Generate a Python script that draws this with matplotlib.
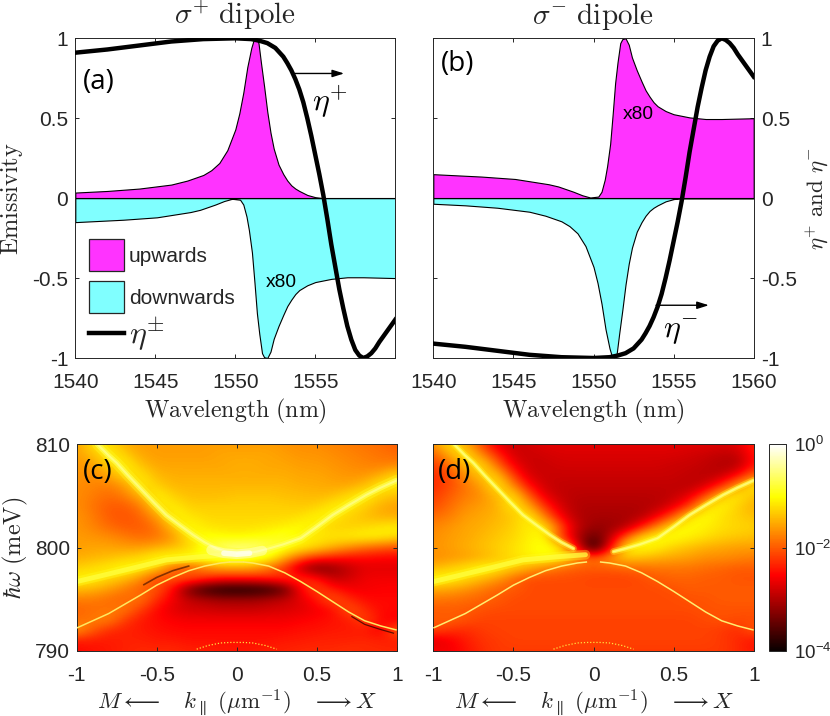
import matplotlib
matplotlib.use("Agg")
import matplotlib.pyplot as plt
import numpy as np
from matplotlib.lines import Line2D
from matplotlib.patches import Patch

plt.rcParams.update({
    "font.family": ["Liberation Sans", "DejaVu Sans"],
    "mathtext.fontset": "cm",
    "axes.unicode_minus": False,
    "axes.linewidth": 0.7,
    "axes.edgecolor": "#262626",
    "xtick.color": "#262626",
    "ytick.color": "#262626",
    "text.color": "#262626",
    "axes.labelcolor": "#262626",
})

W, H = 830, 716
MAGENTA = "#FF33FF"
CYAN = "#80FFFF"

# --- top row: emissivity spectra ------------------------------------------
eta_x = [1540, 1542, 1544, 1546, 1548, 1550, 1551, 1551.5, 1552, 1552.5, 1553, 1553.25, 1553.5, 1553.75,
         1554, 1554.25, 1554.5, 1554.75, 1555, 1555.25, 1555.5, 1555.75, 1556, 1556.25, 1556.5, 1556.75,
         1557, 1557.25, 1557.5, 1557.75, 1558, 1558.25, 1558.5, 1558.75, 1559, 1559.5, 1560]
eta_y = [0.91, 0.93, 0.955, 0.98, 0.995, 1.0, 0.995, 0.985, 0.97, 0.94, 0.885, 0.845, 0.80, 0.745,
         0.68, 0.60, 0.50, 0.39, 0.27, 0.15, 0.02, -0.13, -0.29, -0.43, -0.57, -0.69,
         -0.80, -0.885, -0.95, -0.985, -1.0, -0.99, -0.97, -0.94, -0.90, -0.83, -0.76]

# narrow resonance (upwards in a, downwards in b)
narrow_x = [1540, 1542, 1544, 1546, 1547, 1548, 1548.5, 1549, 1549.5, 1550, 1550.25, 1550.5, 1550.75, 1551,
            1551.15, 1551.3, 1551.45, 1551.6, 1551.8, 1552, 1552.2, 1552.4, 1552.7, 1553, 1553.25, 1553.5,
            1553.75, 1554, 1554.5, 1555, 1555.5, 1560]
narrow_y = [0.035, 0.045, 0.06, 0.085, 0.11, 0.145, 0.175, 0.22, 0.30, 0.43, 0.53, 0.66, 0.82, 0.94,
            0.99, 1.0, 0.97, 0.85, 0.70, 0.54, 0.41, 0.31, 0.21, 0.15, 0.11, 0.08,
            0.06, 0.045, 0.02, 0.006, 0.0, 0.0]

# fano-like resonance, x80 (downwards in a, upwards in b)
fano_x = [1540, 1543, 1545.1, 1547.2, 1547.8, 1548.75, 1549.3, 1549.8, 1550.3, 1550.5, 1550.7, 1550.85, 1551.04,
          1551.2, 1551.35, 1551.5, 1551.67, 1551.8, 1552, 1552.2, 1552.4, 1552.7, 1553, 1553.25, 1553.5, 1553.75,
          1554, 1554.5, 1555, 1556, 1557, 1558, 1560]
fano_y = [0.15, 0.135, 0.12, 0.087, 0.073, 0.04, 0.018, 0.004, 0.01, 0.04, 0.115, 0.2, 0.34,
          0.53, 0.72, 0.85, 0.97, 0.995, 1.0, 0.96, 0.88, 0.80, 0.73, 0.675, 0.635, 0.60,
          0.575, 0.545, 0.525, 0.505, 0.495, 0.495, 0.5]

# --- bottom row: log10 emissivity, rows 810 -> 790 meV, columns k = -1 .. 1
k_grid = [-1.0, -0.9, -0.8, -0.7, -0.6, -0.5, -0.4, -0.3, -0.2, -0.1, 0.0,
          0.1, 0.2, 0.3, 0.4, 0.5, 0.6, 0.7, 0.8, 0.9, 1.0]
map_c = [
    [-1.6,-1.15,-1.2,-1.5,-1.6,-1.6,-1.6,-1.6,-1.6,-1.6,-1.6,-1.6,-1.6,-1.65,-1.7,-1.7,-1.75,-1.8,-1.85,-1.9,-2.0],
    [-1.6,-1.4,-1.05,-1.3,-1.55,-1.6,-1.6,-1.6,-1.6,-1.55,-1.55,-1.55,-1.55,-1.6,-1.65,-1.65,-1.7,-1.75,-1.8,-1.85,-1.9],
    [-1.65,-1.6,-1.3,-1.05,-1.4,-1.55,-1.55,-1.55,-1.55,-1.55,-1.5,-1.5,-1.55,-1.55,-1.6,-1.6,-1.65,-1.7,-1.75,-1.8,-1.75],
    [-1.65,-1.7,-1.55,-1.2,-1.15,-1.45,-1.5,-1.5,-1.5,-1.5,-1.5,-1.5,-1.5,-1.5,-1.55,-1.55,-1.6,-1.65,-1.65,-1.5,-1.2],
    [-1.7,-1.75,-1.8,-1.6,-1.1,-1.3,-1.45,-1.45,-1.45,-1.45,-1.45,-1.45,-1.45,-1.45,-1.5,-1.5,-1.55,-1.55,-1.4,-1.1,-1.15],
    [-1.7,-1.8,-1.9,-1.8,-1.45,-1.05,-1.3,-1.4,-1.4,-1.4,-1.35,-1.35,-1.35,-1.4,-1.4,-1.45,-1.4,-1.2,-1.05,-1.3,-1.4],
    [-1.7,-1.85,-2.0,-2.0,-1.8,-1.2,-1.1,-1.3,-1.3,-1.3,-1.3,-1.3,-1.3,-1.3,-1.35,-1.3,-1.1,-1.1,-1.3,-1.5,-1.6],
    [-1.65,-1.8,-2.0,-2.05,-1.95,-1.6,-1.05,-1.15,-1.25,-1.25,-1.25,-1.25,-1.25,-1.25,-1.2,-1.05,-1.1,-1.3,-1.4,-1.5,-1.5],
    [-1.65,-1.75,-1.9,-2.0,-2.0,-1.85,-1.35,-1.0,-1.15,-1.2,-1.2,-1.2,-1.15,-1.1,-1.0,-1.15,-1.3,-1.3,-1.25,-1.15,-1.1],
    [-1.6,-1.65,-1.7,-1.8,-1.9,-1.85,-1.65,-1.15,-0.95,-1.0,-1.05,-1.0,-0.95,-0.85,-1.1,-1.15,-1.15,-1.1,-1.05,-1.1,-1.2],
    [-1.6,-1.55,-1.55,-1.6,-1.6,-1.5,-1.4,-1.3,-0.95,-0.6,-0.5,-0.5,-0.7,-0.95,-1.1,-1.25,-1.5,-1.7,-1.9,-2.0,-2.1],
    [-1.5,-1.45,-1.4,-1.3,-1.2,-1.0,-0.95,-0.95,-0.9,-0.75,-0.7,-0.85,-1.0,-1.5,-2.0,-2.3,-2.4,-2.5,-2.5,-2.55,-2.55],
    [-1.3,-1.2,-1.1,-1.0,-1.1,-1.3,-2.0,-2.1,-1.8,-1.6,-1.6,-1.6,-1.9,-2.3,-3.0,-3.4,-3.2,-2.9,-2.7,-2.7,-2.7],
    [-1.05,-1.1,-1.25,-1.4,-1.7,-2.2,-2.0,-2.0,-2.2,-2.4,-2.4,-2.4,-2.3,-2.2,-2.2,-2.4,-2.9,-2.8,-2.6,-2.6,-2.6],
    [-1.4,-1.45,-1.6,-1.8,-2.0,-2.0,-2.5,-3.4,-3.8,-3.95,-4.0,-3.95,-3.85,-3.5,-2.5,-2.1,-2.4,-2.6,-2.6,-2.55,-2.55],
    [-1.8,-1.8,-1.9,-1.95,-1.8,-2.3,-2.6,-2.9,-3.0,-3.1,-3.1,-3.1,-3.0,-2.9,-2.7,-2.4,-2.0,-2.3,-2.5,-2.5,-2.5],
    [-1.95,-1.9,-1.85,-1.8,-2.2,-2.5,-2.7,-2.8,-2.8,-2.85,-2.85,-2.85,-2.8,-2.75,-2.7,-2.6,-2.5,-2.0,-2.3,-2.5,-2.5],
    [-1.9,-1.8,-1.75,-2.2,-2.4,-2.5,-2.55,-2.6,-2.6,-2.6,-2.6,-2.6,-2.6,-2.6,-2.55,-2.5,-2.45,-2.4,-2.1,-2.5,-2.6],
    [-1.6,-2.0,-2.3,-2.35,-2.4,-2.45,-2.5,-2.5,-2.5,-2.5,-2.5,-2.5,-2.5,-2.5,-2.45,-2.45,-2.4,-2.4,-2.4,-2.6,-1.9],
    [-2.4,-2.4,-2.4,-2.35,-2.35,-2.4,-2.4,-2.45,-2.45,-2.45,-2.45,-2.45,-2.45,-2.4,-2.4,-2.35,-2.35,-2.35,-2.3,-2.35,-2.4],
    [-2.5,-2.45,-2.4,-2.35,-2.3,-2.3,-2.3,-2.35,-2.35,-2.4,-2.4,-2.4,-2.35,-2.35,-2.3,-2.3,-2.3,-2.25,-2.3,-2.3,-2.3],
]
map_d = [
    [-1.7,-1.15,-1.5,-2.1,-2.7,-2.85,-2.8,-2.7,-2.7,-2.7,-2.7,-2.7,-2.7,-2.7,-2.7,-2.7,-2.7,-2.7,-2.75,-2.7,-2.3],
    [-2.0,-1.5,-1.1,-1.7,-2.3,-2.8,-2.85,-2.8,-2.75,-2.75,-2.75,-2.75,-2.75,-2.75,-2.75,-2.75,-2.8,-2.85,-2.9,-2.9,-2.4],
    [-2.2,-1.9,-1.4,-1.15,-1.9,-2.6,-2.85,-2.85,-2.8,-2.8,-2.8,-2.8,-2.8,-2.8,-2.8,-2.85,-2.85,-2.9,-3.0,-3.0,-2.4],
    [-2.3,-2.1,-1.7,-1.3,-1.3,-2.2,-2.8,-2.85,-2.85,-2.85,-2.85,-2.85,-2.85,-2.85,-2.85,-2.85,-2.9,-2.95,-2.9,-2.5,-1.9],
    [-2.3,-2.1,-1.85,-1.6,-1.1,-1.7,-2.5,-2.85,-2.9,-2.9,-2.9,-2.9,-2.9,-2.9,-2.9,-2.9,-2.95,-2.8,-2.3,-1.6,-1.1],
    [-2.2,-2.0,-1.8,-1.7,-1.4,-1.15,-2.0,-2.7,-2.9,-2.95,-2.95,-2.95,-2.95,-2.95,-2.95,-2.9,-2.7,-2.1,-1.3,-1.1,-1.4],
    [-2.1,-1.9,-1.7,-1.6,-1.5,-1.1,-1.5,-2.3,-2.8,-3.0,-3.0,-3.0,-3.0,-3.0,-2.95,-2.7,-2.2,-1.2,-1.05,-1.3,-1.5],
    [-1.9,-1.8,-1.6,-1.55,-1.45,-1.35,-1.05,-1.8,-2.6,-3.0,-3.05,-3.05,-3.05,-3.0,-2.6,-2.0,-1.15,-1.0,-1.2,-1.3,-1.4],
    [-1.75,-1.65,-1.55,-1.5,-1.4,-1.3,-1.1,-1.15,-2.1,-2.9,-3.15,-3.15,-3.0,-2.4,-1.7,-1.1,-1.0,-1.1,-1.2,-1.25,-1.3],
    [-1.7,-1.6,-1.55,-1.45,-1.35,-1.25,-1.1,-1.0,-2.2,-3.0,-3.5,-3.0,-2.0,-1.2,-1.0,-1.0,-1.1,-1.2,-1.3,-1.35,-1.4],
    [-1.65,-1.6,-1.5,-1.4,-1.3,-1.2,-1.05,-0.95,-1.1,-2.6,-4.0,-2.6,-1.1,-1.0,-1.1,-1.3,-1.4,-1.5,-1.55,-1.6,-1.6],
    [-1.7,-1.65,-1.6,-1.5,-1.35,-1.2,-1.1,-1.0,-1.15,-1.6,-1.95,-1.6,-1.35,-1.4,-1.5,-1.55,-1.6,-1.7,-1.7,-1.75,-1.8],
    [-1.45,-1.3,-1.15,-1.0,-1.1,-1.3,-1.5,-1.75,-1.9,-2.0,-2.0,-2.0,-1.95,-1.9,-1.85,-1.85,-1.85,-1.9,-1.95,-2.0,-2.0],
    [-1.0,-1.05,-1.2,-1.4,-1.6,-1.9,-2.1,-2.1,-2.1,-2.1,-2.15,-2.15,-2.15,-2.1,-2.0,-1.95,-1.95,-2.0,-2.0,-2.05,-2.05],
    [-1.5,-1.55,-1.65,-1.8,-1.95,-2.0,-2.1,-2.1,-2.1,-2.1,-2.1,-2.1,-2.1,-2.1,-2.1,-2.05,-2.0,-2.0,-2.0,-2.0,-2.0],
    [-1.85,-1.85,-1.9,-1.95,-2.0,-2.1,-2.1,-2.1,-2.1,-2.1,-2.1,-2.1,-2.1,-2.1,-2.1,-2.1,-2.05,-2.05,-2.0,-2.0,-2.0],
    [-2.0,-2.0,-2.0,-2.05,-2.1,-2.1,-2.1,-2.1,-2.1,-2.1,-2.1,-2.1,-2.1,-2.1,-2.1,-2.1,-2.1,-2.05,-2.05,-2.05,-2.05],
    [-2.0,-1.95,-2.05,-2.15,-2.15,-2.15,-2.15,-2.15,-2.15,-2.15,-2.15,-2.15,-2.15,-2.15,-2.15,-2.15,-2.15,-2.1,-2.05,-2.1,-2.1],
    [-2.1,-2.25,-2.3,-2.2,-2.15,-2.15,-2.15,-2.15,-2.15,-2.15,-2.15,-2.15,-2.15,-2.15,-2.15,-2.15,-2.15,-2.15,-2.2,-2.3,-2.0],
    [-2.75,-2.6,-2.4,-2.25,-2.2,-2.15,-2.15,-2.15,-2.15,-2.15,-2.15,-2.15,-2.15,-2.15,-2.15,-2.15,-2.15,-2.15,-2.2,-2.3,-2.45],
    [-2.55,-2.6,-2.45,-2.3,-2.2,-2.2,-2.2,-2.2,-2.2,-2.2,-2.2,-2.2,-2.2,-2.2,-2.2,-2.2,-2.2,-2.2,-2.2,-2.3,-2.4],
]

# band positions (c) and (d)
lower_left_k = [-1.0, -0.9, -0.8, -0.7, -0.6, -0.5, -0.4, -0.3, -0.2, -0.1, -0.04]
lower_left_E = [792.2, 792.9, 793.6, 794.5, 795.4, 796.35, 797.1, 797.75, 798.2, 798.5, 798.6]
lower_right_k = [0.04, 0.1, 0.2, 0.3, 0.4, 0.5, 0.6, 0.7, 0.8, 0.9, 1.0]
lower_right_E = [798.6, 798.5, 798.2, 797.55, 796.7, 795.75, 794.75, 793.75, 792.9, 792.4, 792.0]
upper_left_k = [-0.87, -0.8, -0.75, -0.68, -0.6, -0.52, -0.44, -0.35, -0.27, -0.2, -0.125, -0.06, 0.0]
upper_left_E = [810.0, 808.9, 808.2, 807.0, 805.7, 804.4, 803.15, 802.1, 801.2, 800.5, 799.9, 799.55, 799.4]
upper_right_k = [0.0, 0.06, 0.125, 0.2, 0.29, 0.4, 0.5, 0.6, 0.7, 0.81, 0.9, 1.0]
upper_right_E = [799.4, 799.45, 799.6, 799.9, 800.3, 800.9, 802.0, 803.15, 804.1, 805.1, 805.8, 806.5]
flat_k = [-1.0, -0.85, -0.65, -0.44, -0.23, -0.05]
flat_E = [796.7, 797.25, 798.0, 798.8, 799.1, 799.3]
core_k = [-0.16, -0.08, 0.0, 0.08, 0.16]
core_E = [799.75, 799.45, 799.35, 799.45, 799.7]
streak_k = [-0.58, -0.5, -0.4, -0.3]
streak_E = [796.4, 797.1, 797.75, 798.2]
under_k = [0.72, 0.8, 0.9, 0.98]
under_E = [793.3, 792.55, 792.05, 791.7]
dots_k = [-0.25, -0.18, -0.1, -0.04, 0.04, 0.1, 0.18, 0.25]
dots_E = [790.15, 790.5, 790.75, 790.8, 790.8, 790.75, 790.5, 790.15]


def add_axes(fig, left, top, right, bottom):
    return fig.add_axes([left / W, 1 - bottom / H, (right - left) / W, (bottom - top) / H])


def style_ticks(ax):
    ax.tick_params(direction="in", length=2.6, width=0.7, top=True, right=True, labelsize=15)
    ax.tick_params(axis="y", pad=5)
    ax.tick_params(axis="x", pad=11)


def spectrum(ax, up_x, up_y, down_x, down_y):
    ax.fill_between(up_x, 0, up_y, facecolor=MAGENTA, edgecolor="black", linewidth=0.8, zorder=2)
    ax.fill_between(down_x, 0, -np.array(down_y), facecolor=CYAN, edgecolor="black", linewidth=0.8, zorder=2)
    ax.axhline(0, color="black", lw=0.8, zorder=2.5)
    ax.set_xlim(1540, 1560)
    ax.set_ylim(-1, 1)
    ax.set_xticks([1540, 1545, 1550, 1555, 1560])
    ax.set_yticks([-1, -0.5, 0, 0.5, 1])
    ax.set_yticklabels(["-1", "-0.5", "0", "0.5", "1"])
    style_ticks(ax)
    ax.set_xlabel(r"$\mathrm{Wavelength\ (nm)}$", fontsize=17.2, labelpad=3)


def band(ax, k, E, widths, colors, alphas):
    for lw, c, a in zip(widths, colors, alphas):
        ax.plot(k, E, color=c, lw=lw, alpha=a, zorder=2, solid_capstyle="round")


def heatmap(ax, grid, ridge_color, upper_bands, widths, alphas):
    im = ax.imshow(np.array(grid), extent=[-1.05, 1.05, 789.5, 810.5], origin="upper", aspect="auto",
                   cmap="hot", vmin=-4, vmax=0, interpolation="bicubic", zorder=1)
    for k, E in upper_bands:
        band(ax, k, E, widths, ["#ffff30", "#ffff50", "#ffffa0"], alphas)
    band(ax, flat_k, flat_E, [7, 3.5], ["#ffff20", "#ffff40"], [0.35, 0.75])
    for k, E in [(lower_left_k, lower_left_E), (lower_right_k, lower_right_E)]:
        ax.plot(k, E, color=ridge_color, lw=1.1, zorder=3, solid_capstyle="butt")
    ax.plot(dots_k, dots_E, color="#ffe040", lw=0.9, ls=(0, (1, 1.5)), zorder=3)
    ax.set_xlim(-1, 1)
    ax.set_ylim(790, 810)
    ax.set_xticks([-1, -0.5, 0, 0.5, 1])
    ax.set_xticklabels(["-1", "-0.5", "0", "0.5", "1"])
    ax.set_yticks([790, 800, 810])
    style_ticks(ax)
    ax.set_xlabel(r"$M\longleftarrow\quad k_{\parallel}\ (\mu\mathrm{m}^{-1})\quad\longrightarrow X$",
                  fontsize=16.5, labelpad=2)
    return im


fig = plt.figure(figsize=(W / 100, H / 100), dpi=100)

ax_a = add_axes(fig, 75.3, 38.3, 395.3, 358)
spectrum(ax_a, narrow_x, narrow_y, fano_x, fano_y)
ax_a.plot(eta_x, eta_y, color="black", lw=3.2, zorder=4)
ax_a.set_xticklabels(["1540", "1545", "1550", "1555", ""])
ax_a.set_ylabel(r"$\mathrm{Emissivity}$", fontsize=17.5, labelpad=5)
ax_a.set_title(r"$\sigma^{+}\ \mathrm{dipole}$", fontsize=21, pad=10)
ax_a.text(0.025, 0.8625, "(a)", transform=ax_a.transAxes, fontsize=20, family="Open Sans", color="black", va="center")
ax_a.text(1552.86, -0.525, "x80", fontsize=13.8, ha="center", va="center", zorder=5, color="black")
ax_a.annotate("", xy=(1556.8, 0.78), xytext=(1553.7, 0.78), zorder=5,
              arrowprops=dict(arrowstyle="-|>,head_length=0.7,head_width=0.22", color="black", lw=1.0, shrinkA=0, shrinkB=0))
ax_a.text(1554.8, 0.6, r"$\eta^{+}$", fontsize=23, ha="left", va="center", color="black", zorder=5)

patches = [Patch(facecolor=MAGENTA, edgecolor="#262626", linewidth=0.9),
           Patch(facecolor=CYAN, edgecolor="#262626", linewidth=0.9)]
leg = ax_a.legend(patches, ["upwards", "downwards"], loc="lower left", bbox_to_anchor=(0.043, 0.14),
                  frameon=False, fontsize=15, handlelength=1.68, handleheight=1.99, handletextpad=0.24,
                  labelspacing=0.48, borderpad=0, borderaxespad=0)
ax_a.add_artist(leg)
ax_a.legend([Line2D([0], [0], color="black", lw=3.2)], [r"$\eta^{\pm}$"], loc="center left",
            bbox_to_anchor=(0.043, 0.075), frameon=False, fontsize=23, handlelength=1.1,
            handletextpad=0.16, borderpad=0, borderaxespad=0)

ax_b = add_axes(fig, 433.3, 38.3, 753.7, 358)
spectrum(ax_b, fano_x, fano_y, narrow_x, narrow_y)
ax_b.plot(eta_x, -np.array(eta_y), color="black", lw=3.2, zorder=4)
ax_b.tick_params(labelleft=False, labelright=True)
ax_b.yaxis.set_label_position("right")
ax_b.set_ylabel(r"$\eta^{+}\ \mathrm{and}\ \eta^{-}$", fontsize=16.5, labelpad=5)
ax_b.set_title(r"$\sigma^{-}\ \mathrm{dipole}$", fontsize=21, pad=10)
ax_b.text(0.025, 0.92, "(b)", transform=ax_b.transAxes, fontsize=20, family="Open Sans", color="black", va="center")
ax_b.text(1552.8, 0.525, "x80", fontsize=13.8, ha="center", va="center", zorder=5, color="black")
ax_b.annotate("", xy=(1557.2, -0.67), xytext=(1553.9, -0.67), zorder=5,
              arrowprops=dict(arrowstyle="-|>,head_length=0.7,head_width=0.22", color="black", lw=1.0, shrinkA=0, shrinkB=0))
ax_b.text(1554.35, -0.84, r"$\eta^{-}$", fontsize=23, ha="left", va="center", color="black", zorder=5)

ax_c = add_axes(fig, 76.7, 444.3, 396.7, 650.7)
heatmap(ax_c, map_c, "#ffe860", [(upper_left_k, upper_left_E), (upper_right_k, upper_right_E)],
        [8, 4, 1.5], [0.3, 0.75, 0.6])
ax_c.plot(core_k, core_E, color="white", lw=7, alpha=0.35, zorder=2.5, solid_capstyle="round")
ax_c.plot(core_k[1:-1], core_E[1:-1], color="white", lw=4, alpha=0.7, zorder=2.5, solid_capstyle="round")
ax_c.plot([lower_left_k[-1], lower_right_k[0]], [lower_left_E[-1], lower_right_E[0]], color="#ffe860", lw=1.1, zorder=3)
ax_c.plot(streak_k, streak_E, color="#200000", lw=1.2, alpha=0.55, zorder=2.2)
ax_c.plot(under_k, under_E, color="#200000", lw=0.9, alpha=0.7, zorder=2.2)
ax_c.set_ylabel(r"$\hbar\omega\ (\mathrm{meV})$", fontsize=17.5, labelpad=3)
ax_c.text(0.02, 0.866, "(c)", transform=ax_c.transAxes, fontsize=20, family="Open Sans", color="black", va="center")

ax_d = add_axes(fig, 433.3, 444.3, 753.7, 650.7)
im_d = heatmap(ax_d, map_d, "#ffee70",
               [(upper_left_k[:-2], upper_left_E[:-2]), (upper_right_k[2:], upper_right_E[2:])],
               [5, 2.6, 1.0], [0.3, 0.8, 0.6])
ax_d.tick_params(labelleft=False)
ax_d.text(0.015, 0.866, "(d)", transform=ax_d.transAxes, fontsize=20, family="Open Sans", color="black", va="center")

cax = add_axes(fig, 769, 444.3, 786, 650.7)
cbar = fig.colorbar(im_d, cax=cax, ticks=[-4, -2, 0])
cbar.ax.set_yticklabels([r"$\mathdefault{10^{-4}}$", r"$\mathdefault{10^{-2}}$", r"$\mathdefault{10^{0}}$"])
cbar.ax.tick_params(direction="in", length=2.6, width=0.7, labelsize=13.5, pad=6)
cbar.outline.set_linewidth(0.7)

fig.savefig("out.png", dpi=100, facecolor="white")
